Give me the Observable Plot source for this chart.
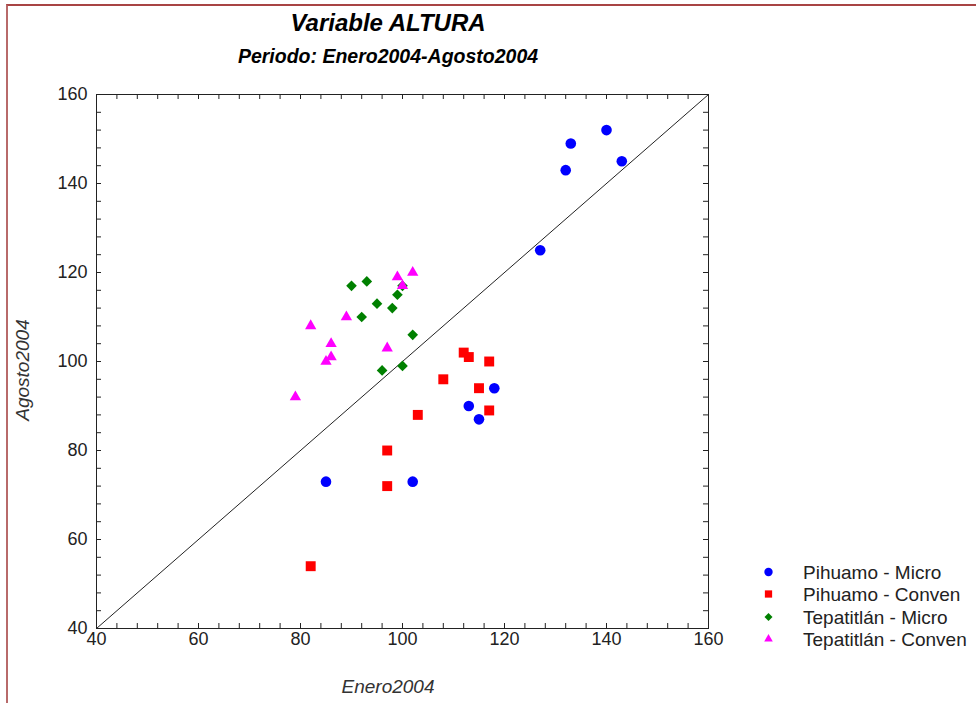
<!DOCTYPE html>
<html>
<head>
<meta charset="utf-8">
<script src="https://cdn.jsdelivr.net/npm/d3@7"></script>
<script src="https://cdn.jsdelivr.net/npm/@observablehq/plot@0.6"></script>
<style>
  html, body { margin: 0; padding: 0; background: #fff; }
  #wrap { position: relative; width: 976px; height: 703px; overflow: hidden; font-family: "Liberation Sans", Arial, sans-serif; }
  #border { position: absolute; left: 6px; top: 4px; width: 980px; height: 697px;
            border-left: 2px solid #b86a6a; border-top: 2px solid #a84444; border-bottom: 1px solid #c48a8a; }
  #chart { position: absolute; left: 0; top: 0; }
  .t { position: absolute; line-height: 1; white-space: nowrap; }
  #title { left: 188px; width: 400px; text-align: center; top: 11px; font-size: 24px; font-weight: bold; font-style: italic; color: #000; }
  #subtitle { left: 188px; width: 400px; text-align: center; top: 47px; font-size: 19.5px; font-weight: bold; font-style: italic; color: #000; }
  #xlabel { left: 188px; width: 400px; text-align: center; top: 677px; font-size: 19px; font-style: italic; color: #333; }
  #ylabel { left: 22px; top: 370px; font-size: 19px; font-style: italic; color: #333; transform: translate(-50%, -50%) rotate(-90deg); }
  #legend { position: absolute; left: 755px; top: 560px; }
  .row { position: absolute; left: 0; height: 22px; white-space: nowrap; font-size: 19px; color: #222; line-height: 1; }
  .row svg { position: absolute; left: 5px; top: 0; }
  .row span { position: absolute; left: 48px; top: 3px; }
</style>
</head>
<body>
<div id="wrap">
  <div id="border"></div>
  <div id="chart"></div>
  <div class="t" id="title">Variable ALTURA</div>
  <div class="t" id="subtitle">Periodo: Enero2004-Agosto2004</div>
  <div class="t" id="xlabel">Enero2004</div>
  <div class="t" id="ylabel">Agosto2004</div>
  <div id="legend"></div>
</div>
<script>
// ---- data ----
const seriesNames = ["Pihuamo - Micro", "Pihuamo - Conven", "Tepatitlán - Micro", "Tepatitlán - Conven"];
const seriesColors = ["#0000ff", "#ff0000", "#008000", "#ff00ff"];

const pihuamoMicroEnero   = [140, 133, 132, 143, 127, 85, 102, 113, 118, 115];
const pihuamoMicroAgosto  = [152, 149, 143, 145, 125, 73, 73, 90, 94, 87];

const pihuamoConvenEnero  = [82, 97, 97, 103, 108, 112, 113, 117, 115, 117];
const pihuamoConvenAgosto = [54, 72, 80, 88, 96, 102, 101, 100, 94, 89];

const tepaMicroEnero      = [90, 93, 95, 99, 100, 98, 92, 102, 96, 100];
const tepaMicroAgosto     = [117, 118, 113, 115, 117, 112, 110, 106, 98, 99];

const tepaConvenEnero     = [102, 99, 100, 89, 82, 86, 86, 85, 97, 79];
const tepaConvenAgosto    = [120, 119, 117, 110, 108, 104, 101, 100, 103, 92];

const majorTicks = [40, 60, 80, 100, 120, 140, 160];
const minorTicks = [40, 44, 48, 52, 56, 60, 64, 68, 72, 76, 80, 84, 88, 92, 96, 100, 104, 108, 112, 116, 120, 124, 128, 132, 136, 140, 144, 148, 152, 156, 160];
const axisDomain = [40, 160];
const diagonal = [{x: 40, y: 40}, {x: 160, y: 160}];

// ---- build tables ----
const zip = (xs, ys) => xs.map((x, i) => ({x, y: ys[i]}));
const sets = [
  zip(pihuamoMicroEnero, pihuamoMicroAgosto),
  zip(pihuamoConvenEnero, pihuamoConvenAgosto),
  zip(tepaMicroEnero, tepaMicroAgosto),
  zip(tepaConvenEnero, tepaConvenAgosto)
];
const symbols = ["circle", "square", "diamond2", "triangle"];
const radii = [5.3, 5.6, 4.8, 4.2];

const W = 976, H = 703, ML = 96, MR = 268, MT = 94, MB = 75;
const innerW = W - ML - MR, innerH = H - MT - MB;
const tickLen = 5;

const plot = Plot.plot({
  width: W,
  height: H,
  marginLeft: ML,
  marginRight: MR,
  marginTop: MT,
  marginBottom: MB,
  x: {domain: axisDomain},
  y: {domain: axisDomain},
  style: {fontFamily: "'Liberation Sans', Arial, sans-serif", fontSize: "18px", color: "#222", background: "transparent"},
  marks: [
    Plot.axisX(majorTicks, {anchor: "bottom", tickSize: 0, tickPadding: 4, label: null, fill: "#222"}),
    Plot.axisY(majorTicks, {anchor: "left", tickSize: 0, tickPadding: 9, label: null, fill: "#222"}),
    // inward ticks on all four sides
    Plot.tickX(minorTicks, {x: d => d, insetTop: innerH - tickLen, stroke: "#222"}),
    Plot.tickX(minorTicks, {x: d => d, insetBottom: innerH - tickLen, stroke: "#222"}),
    Plot.tickY(minorTicks, {y: d => d, insetRight: innerW - tickLen, stroke: "#222"}),
    Plot.tickY(minorTicks, {y: d => d, insetLeft: innerW - tickLen, stroke: "#222"}),
    Plot.line(diagonal, {x: "x", y: "y", stroke: "#222", strokeWidth: 1}),
    ...sets.map((d, i) => Plot.dot(d, {x: "x", y: "y", symbol: () => symbols[i], r: radii[i], fill: seriesColors[i], stroke: "none"})),
    Plot.frame({stroke: "#222", strokeWidth: 1})
  ]
});
document.getElementById("chart").appendChild(plot);

// ---- legend ----
const legend = d3.select("#legend");
const legSymbols = [d3.symbolCircle, d3.symbolSquare, d3.symbolDiamond2, d3.symbolTriangle];
const legR = [4.2, 4.1, 3.6, 3.2];
seriesNames.forEach((name, i) => {
  const row = legend.append("div").attr("class", "row").style("top", (i * 22.3) + "px");
  const svg = row.append("svg").attr("width", 18).attr("height", 22);
  svg.append("path")
    .attr("transform", "translate(8.5,12)")
    .attr("d", d3.symbol().type(legSymbols[i]).size(Math.PI * legR[i] * legR[i])())
    .attr("fill", seriesColors[i]);
  row.append("span").text(name);
});
</script>
</body>
</html>
